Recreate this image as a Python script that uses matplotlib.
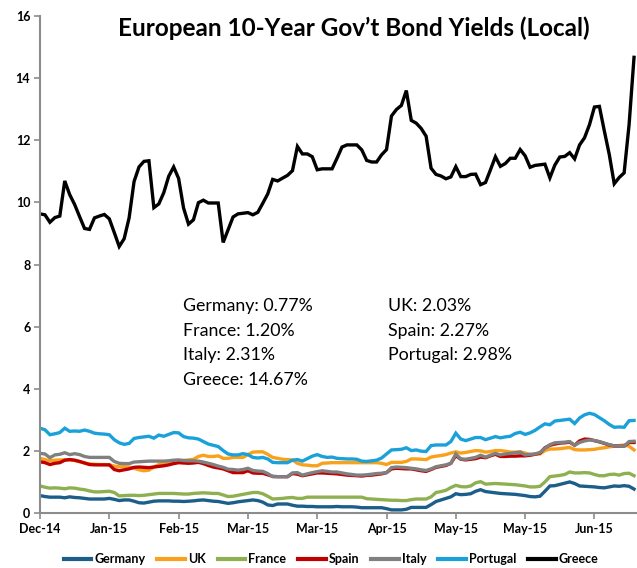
import matplotlib
matplotlib.use("Agg")
import matplotlib.pyplot as plt
import numpy as np

plt.rcParams["font.family"] = ["Lato", "DejaVu Sans"]

# Daily 10-year government bond yields (%), Dec-2014 to Jun-2015
germany = [0.56, 0.53, 0.51, 0.51, 0.51, 0.49, 0.52, 0.50, 0.49, 0.47,
           0.45, 0.45, 0.45, 0.45, 0.47, 0.44, 0.40, 0.42, 0.42, 0.38,
           0.33, 0.32, 0.35, 0.38, 0.39, 0.39, 0.39, 0.38, 0.38, 0.37,
           0.38, 0.39, 0.41, 0.42, 0.40, 0.38, 0.37, 0.34, 0.31, 0.33,
           0.36, 0.38, 0.40, 0.42, 0.40, 0.35, 0.26, 0.24, 0.29, 0.29,
           0.29, 0.25, 0.22, 0.22, 0.21, 0.21, 0.20, 0.20, 0.20, 0.20,
           0.21, 0.20, 0.20, 0.20, 0.19, 0.17, 0.17, 0.17, 0.17, 0.17,
           0.14, 0.10, 0.10, 0.10, 0.12, 0.18, 0.18, 0.18, 0.18, 0.27,
           0.37, 0.42, 0.47, 0.52, 0.62, 0.59, 0.60, 0.62, 0.70, 0.75,
           0.69, 0.67, 0.65, 0.63, 0.62, 0.61, 0.60, 0.58, 0.56, 0.53,
           0.52, 0.54, 0.70, 0.87, 0.88, 0.92, 0.96, 1.00, 0.95, 0.87,
           0.86, 0.85, 0.84, 0.82, 0.81, 0.84, 0.87, 0.86, 0.88, 0.86,
           0.77]

uk = [1.76, 1.72, 1.68, 1.70, 1.71, 1.71, 1.71, 1.69, 1.65, 1.61,
      1.58, 1.57, 1.56, 1.56, 1.55, 1.51, 1.49, 1.49, 1.48, 1.44,
      1.39, 1.36, 1.38, 1.48, 1.56, 1.61, 1.66, 1.67, 1.68, 1.69,
      1.71, 1.73, 1.82, 1.86, 1.82, 1.82, 1.84, 1.76, 1.76, 1.79,
      1.79, 1.79, 1.88, 1.96, 1.97, 1.97, 1.89, 1.79, 1.76, 1.73,
      1.72, 1.71, 1.60, 1.55, 1.54, 1.52, 1.52, 1.60, 1.61, 1.62,
      1.62, 1.62, 1.62, 1.62, 1.62, 1.62, 1.62, 1.62, 1.62, 1.60,
      1.56, 1.63, 1.63, 1.63, 1.66, 1.74, 1.74, 1.73, 1.72, 1.80,
      1.83, 1.85, 1.88, 1.93, 1.97, 1.93, 1.95, 1.98, 2.01, 2.00,
      1.96, 1.98, 2.01, 2.01, 1.99, 1.96, 1.96, 1.97, 1.93, 1.88,
      1.89, 1.90, 2.01, 2.06, 2.06, 2.07, 2.09, 2.11, 2.04, 2.03,
      2.03, 2.04, 2.05, 2.08, 2.10, 2.13, 2.15, 2.17, 2.19, 2.15,
      2.03]

france = [0.87, 0.83, 0.80, 0.81, 0.80, 0.78, 0.81, 0.80, 0.77, 0.75,
          0.71, 0.68, 0.68, 0.69, 0.70, 0.66, 0.55, 0.56, 0.57, 0.57,
          0.56, 0.57, 0.59, 0.61, 0.63, 0.63, 0.63, 0.63, 0.62, 0.61,
          0.61, 0.63, 0.64, 0.65, 0.64, 0.63, 0.63, 0.58, 0.53, 0.54,
          0.57, 0.60, 0.63, 0.66, 0.66, 0.62, 0.54, 0.45, 0.46, 0.47,
          0.49, 0.50, 0.47, 0.47, 0.51, 0.51, 0.51, 0.51, 0.51, 0.51,
          0.51, 0.51, 0.51, 0.51, 0.51, 0.51, 0.46, 0.45, 0.44, 0.43,
          0.42, 0.41, 0.41, 0.40, 0.40, 0.43, 0.45, 0.45, 0.45, 0.52,
          0.66, 0.69, 0.73, 0.82, 0.89, 0.85, 0.84, 0.87, 0.97, 1.01,
          0.93, 0.94, 0.95, 0.94, 0.93, 0.92, 0.91, 0.89, 0.87, 0.84,
          0.84, 0.86, 1.00, 1.17, 1.19, 1.21, 1.24, 1.32, 1.29, 1.29,
          1.30, 1.29, 1.24, 1.20, 1.20, 1.24, 1.25, 1.22, 1.27, 1.28,
          1.20]

spain = [1.65, 1.62, 1.56, 1.60, 1.62, 1.70, 1.72, 1.70, 1.66, 1.61,
         1.56, 1.55, 1.55, 1.55, 1.55, 1.40, 1.36, 1.39, 1.42, 1.47,
         1.48, 1.47, 1.46, 1.48, 1.50, 1.52, 1.55, 1.59, 1.62, 1.61,
         1.60, 1.61, 1.63, 1.59, 1.53, 1.48, 1.45, 1.42, 1.36, 1.30,
         1.30, 1.30, 1.36, 1.29, 1.28, 1.28, 1.23, 1.18, 1.17, 1.17,
         1.17, 1.27, 1.25, 1.20, 1.23, 1.26, 1.29, 1.29, 1.28, 1.27,
         1.26, 1.24, 1.22, 1.21, 1.20, 1.19, 1.21, 1.22, 1.24, 1.26,
         1.30, 1.42, 1.44, 1.43, 1.42, 1.42, 1.39, 1.36, 1.34, 1.40,
         1.47, 1.50, 1.53, 1.60, 1.85, 1.73, 1.71, 1.73, 1.75, 1.80,
         1.78, 1.84, 1.89, 1.82, 1.82, 1.83, 1.83, 1.84, 1.84, 1.86,
         1.89, 1.93, 2.10, 2.18, 2.22, 2.25, 2.26, 2.28, 2.18, 2.32,
         2.38, 2.37, 2.33, 2.29, 2.24, 2.19, 2.16, 2.15, 2.15, 2.27,
         2.27]

italy = [1.92, 1.90, 1.78, 1.87, 1.89, 1.94, 1.88, 1.91, 1.88, 1.82,
         1.79, 1.79, 1.79, 1.79, 1.79, 1.66, 1.60, 1.59, 1.59, 1.64,
         1.65, 1.66, 1.67, 1.67, 1.67, 1.67, 1.68, 1.70, 1.71, 1.69,
         1.68, 1.68, 1.67, 1.64, 1.60, 1.56, 1.51, 1.47, 1.41, 1.40,
         1.38, 1.40, 1.44, 1.37, 1.35, 1.34, 1.27, 1.17, 1.17, 1.17,
         1.17, 1.29, 1.30, 1.22, 1.26, 1.30, 1.33, 1.36, 1.34, 1.32,
         1.32, 1.29, 1.26, 1.24, 1.22, 1.22, 1.23, 1.25, 1.27, 1.28,
         1.30, 1.46, 1.48, 1.47, 1.46, 1.44, 1.42, 1.39, 1.37, 1.42,
         1.49, 1.52, 1.55, 1.60, 1.90, 1.74, 1.73, 1.76, 1.79, 1.86,
         1.80, 1.86, 1.92, 1.87, 1.90, 1.92, 1.94, 1.96, 1.87, 1.89,
         1.90, 1.95, 2.08, 2.20, 2.26, 2.27, 2.28, 2.30, 2.18, 2.27,
         2.32, 2.35, 2.33, 2.30, 2.25, 2.20, 2.16, 2.15, 2.15, 2.30,
         2.31]

portugal = [2.73, 2.68, 2.52, 2.55, 2.59, 2.73, 2.63, 2.64, 2.63, 2.67,
            2.63, 2.57, 2.55, 2.54, 2.52, 2.36, 2.26, 2.21, 2.24, 2.40,
            2.43, 2.45, 2.47, 2.41, 2.51, 2.47, 2.53, 2.59, 2.58, 2.46,
            2.42, 2.41, 2.38, 2.30, 2.22, 2.18, 2.14, 2.01, 1.90, 1.87,
            1.87, 1.91, 1.88, 1.79, 1.77, 1.79, 1.74, 1.63, 1.62, 1.62,
            1.62, 1.70, 1.72, 1.67, 1.75, 1.83, 1.88, 1.82, 1.79, 1.80,
            1.76, 1.75, 1.74, 1.74, 1.73, 1.67, 1.66, 1.68, 1.70, 1.77,
            1.90, 2.03, 2.04, 2.05, 2.10, 2.01, 2.03, 1.99, 1.98, 2.17,
            2.19, 2.19, 2.19, 2.30, 2.57, 2.38, 2.33, 2.38, 2.43, 2.43,
            2.36, 2.41, 2.46, 2.42, 2.45, 2.47, 2.56, 2.60, 2.53, 2.58,
            2.66, 2.77, 2.87, 2.84, 2.96, 2.98, 3.00, 3.02, 2.88, 3.06,
            3.16, 3.21, 3.17, 3.07, 2.97, 2.85, 2.76, 2.77, 2.76, 2.97,
            2.98]

greece = [9.63, 9.60, 9.36, 9.51, 9.56, 10.69, 10.25, 9.93, 9.54, 9.16,
          9.13, 9.50, 9.56, 9.61, 9.47, 9.03, 8.58, 8.83, 9.50, 10.67,
          11.14, 11.32, 11.34, 9.83, 9.95, 10.31, 10.84, 11.14, 10.77, 9.82,
          9.30, 9.44, 9.99, 10.07, 9.98, 9.98, 9.98, 8.71, 9.12, 9.53,
          9.63, 9.65, 9.67, 9.60, 9.68, 9.97, 10.27, 10.74, 10.69, 10.78,
          10.87, 11.02, 11.80, 11.56, 11.56, 11.47, 11.05, 11.08, 11.08, 11.08,
          11.42, 11.78, 11.85, 11.85, 11.85, 11.69, 11.35, 11.30, 11.30, 11.53,
          11.70, 12.78, 12.99, 13.12, 13.60, 12.64, 12.55, 12.38, 12.13, 11.10,
          10.90, 10.85, 10.76, 10.82, 11.15, 10.83, 10.83, 10.90, 10.91, 10.57,
          10.64, 11.05, 11.47, 11.16, 11.25, 11.42, 11.42, 11.70, 11.50, 11.13,
          11.19, 11.21, 11.23, 10.79, 11.20, 11.46, 11.48, 11.60, 11.40, 11.85,
          12.08, 12.50, 13.07, 13.09, 12.30, 11.54, 10.60, 10.80, 10.95, 12.50,
          14.67]

month_labels = ["Dec-14", "Jan-15", "Feb-15", "Mar-15", "Mar-15",
                "Apr-15", "May-15", "May-15", "Jun-15"]

series = [
    ("Germany", germany, "#1b5e8a"),
    ("UK", uk, "#f9a11b"),
    ("France", france, "#8fb051"),
    ("Spain", spain, "#c00000"),
    ("Italy", italy, "#808080"),
    ("Portugal", portugal, "#1ba1d9"),
    ("Greece", greece, "#000000"),
]

fig = plt.figure(figsize=(6.37, 5.68), dpi=100)
ax = fig.add_axes([40 / 637, 1 - 513 / 568, 597 / 637, 497 / 568])

x = np.arange(len(greece))
for name, vals, color in series:
    ax.plot(x, vals, color=color, lw=2.4, label=name, solid_joinstyle="miter")

tick_step = 14
ax.set_xticks(np.arange(len(month_labels)) * tick_step)
ax.set_xticklabels(month_labels, fontsize=9, fontweight="bold")
ax.set_xlim(0, 120.6)
ax.set_ylim(0, 16)
ax.set_yticks(np.arange(0, 17, 2))
ax.set_yticklabels([str(v) for v in range(0, 17, 2)], fontsize=9,
                   fontweight="bold")

for side in ("top", "right"):
    ax.spines[side].set_visible(False)
for side in ("left", "bottom"):
    ax.spines[side].set_color("#8c8c8c")
    ax.spines[side].set_linewidth(1.5)
ax.tick_params(axis="both", colors="#8c8c8c", length=4, width=1.2,
               labelcolor="black", pad=3)

fig.text(0.556, 0.951, "European 10-Year Gov\u2019t Bond Yields (Local)",
         ha="center", va="center", fontsize=17.5, fontweight="bold")

# Latest yields
left_col = ["Germany: 0.77%", "France: 1.20%", "Italy: 2.31%", "Greece: 14.67%"]
right_col = ["UK: 2.03%", "Spain: 2.27%", "Portugal: 2.98%"]
for k, txt in enumerate(left_col):
    fig.text(183 / 637, 1 - (306 + 24.6 * k) / 568, txt, ha="left",
             va="center", fontsize=12.8)
for k, txt in enumerate(right_col):
    fig.text(388 / 637, 1 - (306 + 24.6 * k) / 568, txt, ha="left",
             va="center", fontsize=12.8)

leg = fig.legend(loc="center", bbox_to_anchor=(0.52, 1 - 559 / 568), ncol=7,
                 frameon=False, handlelength=2.2, handletextpad=0.25,
                 columnspacing=0.95, prop={"weight": "bold", "size": 9})
for line in leg.get_lines():
    line.set_linewidth(3)

fig.savefig("out.png", dpi=100)
